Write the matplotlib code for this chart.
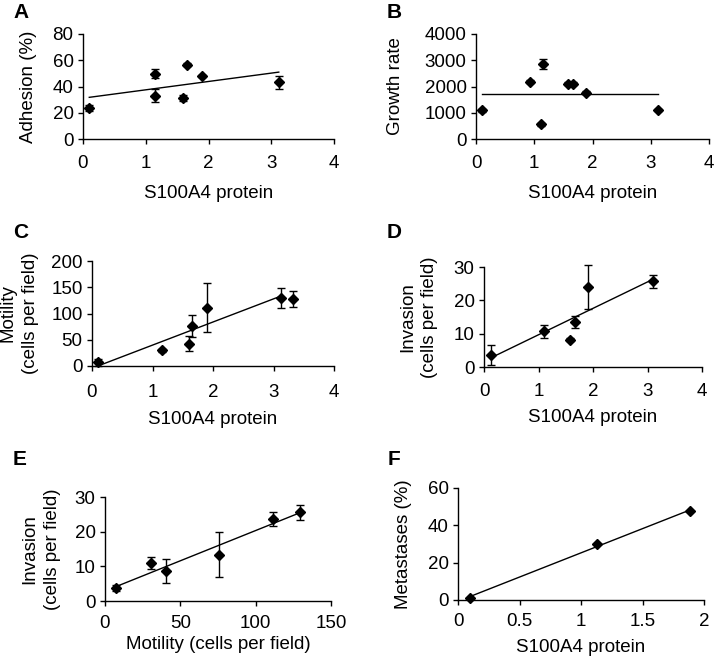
import numpy as np
import matplotlib
matplotlib.use("Agg")
import matplotlib.pyplot as plt

plt.rcParams['font.family'] = ['Liberation Sans', 'DejaVu Sans']

# ---- data ----
a_x = [0.10, 1.15, 1.15, 1.60, 1.66, 1.90, 3.12]
a_y = [23.7, 49.9, 33.1, 31.1, 56.6, 48.0, 43.3]
a_err = [2.5, 3.5, 5.2, 2.5, 1.0, 1.0, 5.0]

b_x = [0.10, 0.92, 1.15, 1.11, 1.58, 1.67, 1.88, 3.13]
b_y = [1090, 2190, 2860, 560, 2110, 2110, 1770, 1100]
b_err = [50, 50, 180, 50, 50, 50, 50, 50]

c_x = [0.10, 1.16, 1.60, 1.66, 1.90, 3.13, 3.33]
c_y = [7, 30, 42.5, 75.5, 111, 129, 127.6]
c_err = [7, 3, 14, 21, 47, 19, 15]
c_fit_n = 6  # regression drawn over first six points

d_x = [0.12, 1.11, 1.58, 1.67, 1.90, 3.10]
d_y = [3.5, 10.7, 8.2, 13.5, 24.0, 25.7]
d_err = [3.0, 2.0, 0.5, 1.8, 6.5, 2.0]

e_x = [7, 30.5, 40.6, 75.5, 111.8, 129.4]
e_y = [3.75, 11.0, 8.65, 13.4, 23.75, 25.6]
e_err = [1.0, 1.8, 3.5, 6.5, 2.0, 2.2]

f_x = [0.095, 1.134, 1.886]
f_y = [1.25, 30.0, 47.5]

W, H = 714, 663
fig = plt.figure(figsize=(W / 100, H / 100), dpi=100)

FS = 13.5


def rect(l, t, r, b):
    return [l / W, 1 - b / H, (r - l) / W, (b - t) / H]


def panel(box, x, y, err, xlim, xticks, xticklabels, ylim, yticks,
          xlabel, ylabel, ylab_x, letter, lpos, xpad, lpad,
          fit='ols', fit_n=None):
    ax = fig.add_axes(rect(*box))
    x = np.asarray(x, float)
    y = np.asarray(y, float)
    n = len(x) if fit_n is None else fit_n
    fx, fy = x[:n], y[:n]
    xs = np.array([fx.min(), fx.max()])
    if fit == 'mean':
        ys = np.full(2, fy.mean())
    else:
        p = np.polyfit(fx, fy, 1)
        ys = np.polyval(p, xs)
    ax.plot(xs, ys, color='black', lw=1.0, zorder=2)
    if err is not None:
        ax.errorbar(x, y, yerr=err, fmt='D', color='black', ms=5.6,
                    ecolor='black', elinewidth=1.0, capsize=3.2,
                    capthick=1.0, clip_on=False, zorder=3)
    else:
        ax.plot(x, y, 'D', color='black', ms=5.6, clip_on=False, zorder=3)
    ax.set_xlim(*xlim)
    ax.set_ylim(*ylim)
    ax.set_xticks(xticks)
    ax.set_xticklabels(xticklabels)
    ax.set_yticks(yticks)
    for s in ['top', 'right']:
        ax.spines[s].set_visible(False)
    for s in ['left', 'bottom']:
        ax.spines[s].set_linewidth(1.0)
    ax.tick_params(axis='both', direction='out', length=3.8, width=1.0,
                   labelsize=FS)
    ax.tick_params(axis='y', pad=3.0)
    ax.tick_params(axis='x', pad=xpad)
    ax.set_xlabel(xlabel, fontsize=FS, labelpad=lpad)
    ax.text(ylab_x, 0.5, ylabel, transform=ax.transAxes, rotation=90,
            ha='center', va='center', ma='center', fontsize=FS,
            linespacing=1.42)
    fig.text(lpos[0] / W, 1 - lpos[1] / H, letter, fontsize=15,
             fontweight='bold', ha='left', va='baseline')
    return ax


p4 = [0, 1, 2, 3, 4]
p4l = ['0', '1', '2', '3', '4']

panel((83, 34, 334, 139), a_x, a_y, a_err, (0, 4), p4, p4l, (0, 80),
      [0, 20, 40, 60, 80], 'S100A4 protein', 'Adhesion (%)', -0.219,
      'A', (13, 18), 7.5, 9.5)

panel((476, 34, 709, 139), b_x, b_y, b_err, (0, 4), p4, p4l, (0, 4000),
      [0, 1000, 2000, 3000, 4000], 'S100A4 protein', 'Growth rate', -0.344,
      'B', (387, 18), 7.5, 9.5, fit='mean')

panel((92, 261, 334, 366), c_x, c_y, c_err, (0, 4), p4, p4l, (0, 200),
      [0, 50, 100, 150, 200], 'S100A4 protein',
      'Motility\n(cells per field)', -0.300, 'C', (13, 238), 9.0, 7.3,
      fit_n=c_fit_n)

panel((484, 267, 702, 367), d_x, d_y, d_err, (0, 4), p4, p4l, (0, 30),
      [0, 10, 20, 30], 'S100A4 protein',
      'Invasion\n(cells per field)', -0.300, 'D', (387, 238), 7.9, 6.6)

panel((105, 497, 331, 601), e_x, e_y, e_err, (0, 150), [0, 50, 100, 150],
      ['0', '50', '100', '150'], (0, 30), [0, 10, 20, 30],
      'Motility (cells per field)', 'Invasion\n(cells per field)', -0.283,
      'E', (13, 465), 6.5, 3.0)

panel((458, 488, 704, 600), f_x, f_y, None, (0, 2), [0, 0.5, 1, 1.5, 2],
      ['0', '0.5', '1', '1.5', '2'], (0, 60), [0, 20, 40, 60],
      'S100A4 protein', 'Metastases (%)', -0.220, 'F', (388, 465), 5.8, 6.6)

fig.savefig('out.png', dpi=100)
